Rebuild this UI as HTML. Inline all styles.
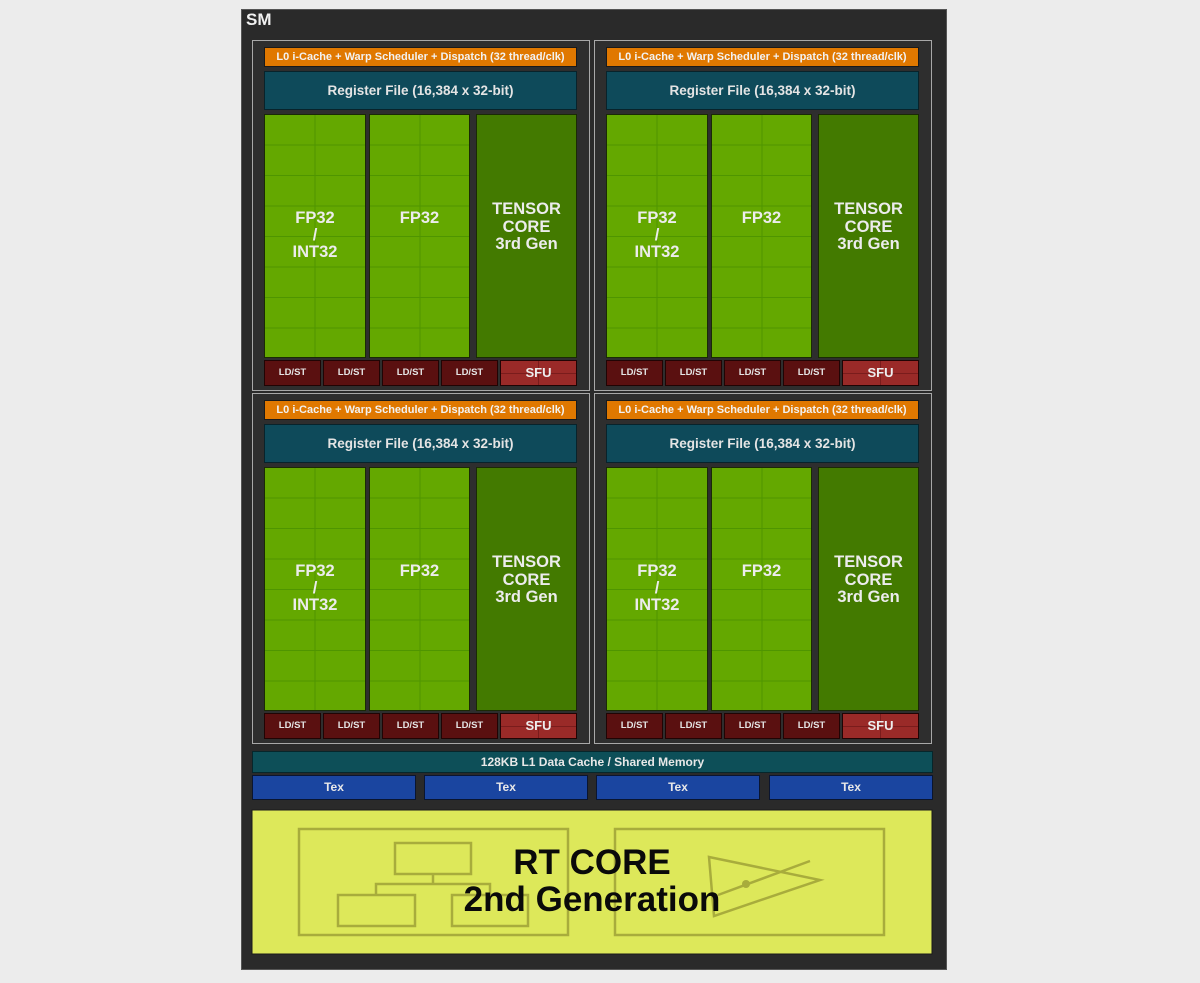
<!DOCTYPE html>
<html><head><meta charset="utf-8"><style>
*{margin:0;padding:0;box-sizing:border-box}
body{width:1200px;height:983px;background:#ececec;position:relative;overflow:hidden;font-family:"Liberation Sans",sans-serif;font-weight:bold}
.a{position:absolute}
#sm{left:241px;top:9px;width:706px;height:961px;background:#2a2a2a;border:1px solid #555}
.q{position:absolute;width:338px;height:351px;border:1px solid #a8a8a8;background:#2e2e2e}
.or{left:11px;top:6px;width:313px;height:20px;background:#e07800;border:1px solid #1a1a1a;color:#f2f2f2;font-size:11px;text-align:center;line-height:18px;white-space:nowrap}
.rf{left:11px;top:30px;width:313px;height:39px;background:#0e4a5a;border:1px solid #08232b;color:#e4e4e4;font-size:13.5px;text-align:center;line-height:37px}
.fp{top:73px;height:244px;background-color:#64a800;border:1px solid #1a2a05;color:#ececec;font-size:16.5px;text-align:center;line-height:17px;padding-top:95px;
background-image:linear-gradient(90deg,transparent 49.5px,#4f9500 49.5px,#4f9500 50.5px,transparent 50.5px),repeating-linear-gradient(180deg,transparent 0,transparent 29.5px,#4f9500 29.5px,#4f9500 30.5px)}
.tc{left:223px;top:73px;width:101px;height:244px;background:#437a00;border:1px solid #1a2a05;color:#ececec;font-size:16.5px;text-align:center;line-height:17.5px;padding-top:86px}
.ld{top:319px;width:57px;height:26px;background:#5a1010;border:1px solid #200404;color:#e4e4e4;font-size:9.5px;text-align:center;line-height:24px}
.sf{left:247px;top:319px;width:77px;height:26px;background:#9a2a28;border:1px solid #200404;color:#eee;font-size:13px;text-align:center;line-height:24px;
background-image:linear-gradient(90deg,transparent 37px,#7a1c1c 37px,#7a1c1c 38px,transparent 38px),linear-gradient(180deg,transparent 12px,#7a1c1c 12px,#7a1c1c 13px,transparent 13px)}
.tx{top:775px;height:25px;width:164px;background:#1a45a0;border:1px solid #0a1530;color:#e8e8e8;font-size:12px;text-align:center;line-height:23px}
</style></head><body>
<div id="sm" class="a"></div>
<div class="a" style="left:246px;top:10px;color:#f0f0f0;font-size:17px">SM</div>

<div class="q" style="left:252px;top:40px">
<div class="a or">L0 i-Cache + Warp Scheduler + Dispatch (32 thread/clk)</div>
<div class="a rf">Register File (16,384 x 32-bit)</div>
<div class="a fp" style="left:11px;width:102px">FP32<br>/<br>INT32</div>
<div class="a fp" style="left:116px;width:101px">FP32</div>
<div class="a tc">TENSOR<br>CORE<br>3rd Gen</div>
<div class="a ld" style="left:11px">LD/ST</div><div class="a ld" style="left:70px">LD/ST</div><div class="a ld" style="left:129px">LD/ST</div><div class="a ld" style="left:188px">LD/ST</div>
<div class="a sf">SFU</div>
</div>
<div class="q" style="left:594px;top:40px">
<div class="a or">L0 i-Cache + Warp Scheduler + Dispatch (32 thread/clk)</div>
<div class="a rf">Register File (16,384 x 32-bit)</div>
<div class="a fp" style="left:11px;width:102px">FP32<br>/<br>INT32</div>
<div class="a fp" style="left:116px;width:101px">FP32</div>
<div class="a tc">TENSOR<br>CORE<br>3rd Gen</div>
<div class="a ld" style="left:11px">LD/ST</div><div class="a ld" style="left:70px">LD/ST</div><div class="a ld" style="left:129px">LD/ST</div><div class="a ld" style="left:188px">LD/ST</div>
<div class="a sf">SFU</div>
</div>
<div class="q" style="left:252px;top:393px">
<div class="a or">L0 i-Cache + Warp Scheduler + Dispatch (32 thread/clk)</div>
<div class="a rf">Register File (16,384 x 32-bit)</div>
<div class="a fp" style="left:11px;width:102px">FP32<br>/<br>INT32</div>
<div class="a fp" style="left:116px;width:101px">FP32</div>
<div class="a tc">TENSOR<br>CORE<br>3rd Gen</div>
<div class="a ld" style="left:11px">LD/ST</div><div class="a ld" style="left:70px">LD/ST</div><div class="a ld" style="left:129px">LD/ST</div><div class="a ld" style="left:188px">LD/ST</div>
<div class="a sf">SFU</div>
</div>
<div class="q" style="left:594px;top:393px">
<div class="a or">L0 i-Cache + Warp Scheduler + Dispatch (32 thread/clk)</div>
<div class="a rf">Register File (16,384 x 32-bit)</div>
<div class="a fp" style="left:11px;width:102px">FP32<br>/<br>INT32</div>
<div class="a fp" style="left:116px;width:101px">FP32</div>
<div class="a tc">TENSOR<br>CORE<br>3rd Gen</div>
<div class="a ld" style="left:11px">LD/ST</div><div class="a ld" style="left:70px">LD/ST</div><div class="a ld" style="left:129px">LD/ST</div><div class="a ld" style="left:188px">LD/ST</div>
<div class="a sf">SFU</div>
</div>

<div class="a" style="left:252px;top:751px;width:681px;height:22px;background:#0d4f58;border:1px solid #06262b;color:#e8e8e8;font-size:12px;text-align:center;line-height:20px">128KB L1 Data Cache / Shared Memory</div>
<div class="a tx" style="left:252px">Tex</div>
<div class="a tx" style="left:424px">Tex</div>
<div class="a tx" style="left:596px">Tex</div>
<div class="a tx" style="left:769px">Tex</div>

<svg class="a" style="left:0;top:0" width="1200" height="983">
<rect x="252" y="810" width="680" height="144" fill="#dde85a" stroke="#1a1a1a" stroke-width="1"/>
<g fill="none" stroke="#a8ac3c" stroke-width="2.5">
<rect x="299" y="829" width="269" height="106"/>
<rect x="615" y="829" width="269" height="106"/>
<rect x="395" y="843" width="76" height="31"/>
<rect x="338" y="895" width="77" height="31"/>
<rect x="452" y="895" width="76" height="31"/>
<path d="M433 874V884M376 895V884H490V895"/>
<path d="M709 857L820 880L714 916Z"/>
<path d="M718 895L810 861"/>
</g>
<circle cx="746" cy="884" r="4" fill="#a8ac3c"/>
<text x="592" y="874" text-anchor="middle" font-family="Liberation Sans" font-weight="bold" font-size="35" fill="#0a0a0a">RT CORE</text>
<text x="592" y="911" text-anchor="middle" font-family="Liberation Sans" font-weight="bold" font-size="35" fill="#0a0a0a">2nd Generation</text>
</svg>
</body></html>
